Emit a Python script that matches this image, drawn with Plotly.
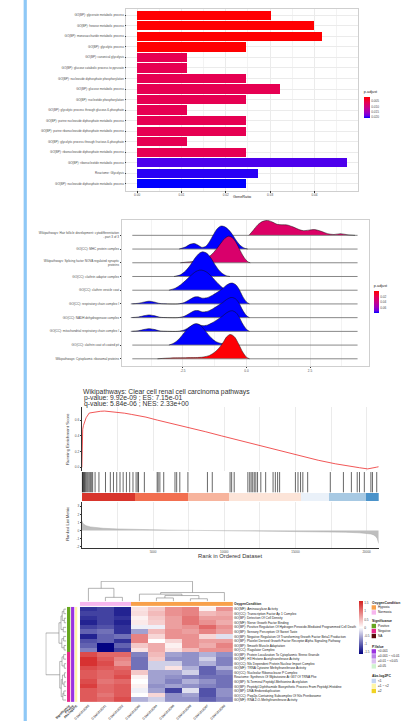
import plotly.graph_objects as go

W, H = 402, 722
FONT = "Liberation Sans, Arial, sans-serif"
TXT = "#4D4D4D"
DARK = "#222222"

def xd(a, b):
    return [a / W, b / W]

def yd(top, bottom):
    return [1 - bottom / H, 1 - top / H]

def px(x):
    return x / W

def py(y):
    return 1 - y / H

# ---------------- Panel 1 : enrichment bar chart ----------------
bar_terms = [
    "GO(BP): glycerate metabolic process",
    "GO(BP): hexose metabolic process",
    "GO(BP): monosaccharide metabolic process",
    "GO(BP): glycolytic process",
    "GO(BP): canonical glycolysis",
    "GO(BP): glucose catabolic process to pyruvate",
    "GO(BP): nucleoside diphosphate phosphorylation",
    "GO(BP): glucose metabolic process",
    "GO(BP): nucleotide phosphorylation",
    "GO(BP): glycolytic process through glucose-6-phosphate",
    "GO(BP): purine nucleoside diphosphate metabolic process",
    "GO(BP): purine ribonucleoside diphosphate metabolic process",
    "GO(BP): glycolytic process through fructose-6-phosphate",
    "GO(BP): ribonucleoside diphosphate metabolic process",
    "GO(BP): ribonucleotide metabolic process",
    "Reactome: Glycolysis",
    "GO(BP): nucleoside diphosphate metabolic process",
]
bar_ratio = [0.0304, 0.0399, 0.0418, 0.0247, 0.0114, 0.0114, 0.0247, 0.0323, 0.0247,
             0.0114, 0.0247, 0.0247, 0.0114, 0.0247, 0.0475, 0.0274, 0.0247]
bar_padj = [0.0006, 0.0006, 0.0006, 0.0006, 0.0058, 0.0058, 0.0058, 0.0058, 0.0058,
            0.0058, 0.0058, 0.0058, 0.0058, 0.0058, 0.0192, 0.0199, 0.0207]
bar_ticks = [0.00, 0.01, 0.02, 0.03, 0.04]
bar_padj_ticks = [0.005, 0.010, 0.015, 0.020]

# ---------------- Panel 2 : ridgeline ----------------
ridge_terms = [
    "Wikipathways: Hair follicle development: cytodifferentiation<br>- part 3 of 3",
    "GO(CC): MHC protein complex",
    "Wikipathways: Splicing factor NOVA regulated synaptic<br>proteins",
    "GO(CC): clathrin adaptor complex",
    "GO(CC): clathrin vesicle coat",
    "GO(CC): respiratory chain complex I",
    "GO(CC): NADH dehydrogenase complex",
    "GO(CC): mitochondrial respiratory chain complex I",
    "GO(CC): clathrin coat of coated pit",
    "Wikipathways: Cytoplasmic ribosomal proteins",
]
ridge_padj = [0.026, 0.075, 0.028, 0.075, 0.075, 0.075, 0.075, 0.075, 0.075, 0.001]
ridge_x = [
    [0.10, 0.26, 0.45, 0.64, 0.83, 1.02, 1.21, 1.40, 1.59, 1.85, 2.10, 2.25, 2.45, 2.68, 2.93, 3.19, 3.44, 3.70, 3.95, 4.27],
    [-2.65, -2.40, -2.20, -2.05, -1.90, -1.75, -1.60, -1.45, -1.30, -1.15, -1.00, -0.85, -0.70, -0.55, -0.40, -0.25, -0.10, 0.05],
    [-2.60, -2.30, -2.00, -1.80, -1.60, -1.40, -1.20, -1.00, -0.85, -0.70, -0.55, -0.40, -0.25, -0.10, 0.05, 0.15],
    [-2.85, -2.60, -2.40, -2.20, -2.00, -1.85, -1.72, -1.55, -1.40, -1.25, -1.10, -0.95, -0.80, -0.65],
    [-3.05, -2.80, -2.60, -2.40, -2.20, -2.00, -1.85, -1.70, -1.55, -1.40, -1.25, -1.10, -0.95, -0.80, -0.65],
    [-4.55, -4.25, -4.00, -3.83, -3.65, -3.40, -3.10, -2.70, -2.45, -2.25, -2.05, -1.90, -1.75, -1.55, -1.35, -1.15, -0.95, -0.80, -0.65, -0.55, -0.42, -0.30, -0.15, 0.00, 0.12],
    [-4.55, -4.25, -4.00, -3.83, -3.65, -3.40, -3.10, -2.70, -2.45, -2.25, -2.05, -1.90, -1.75, -1.55, -1.35, -1.15, -0.95, -0.80, -0.65, -0.55, -0.42, -0.30, -0.15, 0.00, 0.12],
    [-4.55, -4.25, -4.00, -3.83, -3.65, -3.40, -3.10, -2.70, -2.45, -2.25, -2.05, -1.90, -1.75, -1.55, -1.35, -1.15, -0.95, -0.80, -0.65, -0.55, -0.42, -0.30, -0.15, 0.00, 0.12],
    [-3.05, -2.85, -2.65, -2.45, -2.25, -2.05, -1.95, -1.80, -1.60, -1.40, -1.20, -1.00, -0.80, -0.60, -0.40],
    [-3.50, -3.20, -2.80, -2.40, -2.00, -1.70, -1.45, -1.25, -1.05, -0.90, -0.78, -0.65, -0.55, -0.45, -0.30, -0.15, 0.00, 0.12],
]
ridge_h = [
    [0.0, 0.35, 0.78, 1.02, 1.09, 0.97, 0.80, 0.77, 0.76, 0.60, 0.40, 0.34, 0.38, 0.42, 0.30, 0.12, 0.06, 0.12, 0.05, 0.0],
    [0.0, 0.15, 0.36, 0.41, 0.28, 0.12, 0.20, 0.55, 1.05, 1.48, 1.68, 1.62, 1.40, 1.05, 0.62, 0.28, 0.08, 0.0],
    [0.0, 0.06, 0.12, 0.20, 0.32, 0.55, 0.95, 1.45, 1.78, 1.94, 1.82, 1.45, 0.90, 0.40, 0.08, 0.0],
    [0.0, 0.12, 0.40, 0.85, 1.40, 1.70, 1.80, 1.68, 1.35, 0.90, 0.50, 0.22, 0.06, 0.0],
    [0.0, 0.15, 0.38, 0.70, 1.05, 1.35, 1.46, 1.44, 1.30, 1.05, 0.75, 0.45, 0.20, 0.05, 0.0],
    [0.0, 0.05, 0.15, 0.20, 0.15, 0.03, 0.0, 0.0, 0.10, 0.30, 0.50, 0.52, 0.42, 0.45, 0.62, 0.85, 1.10, 1.35, 1.50, 1.52, 1.40, 1.10, 0.55, 0.15, 0.0],
    [0.0, 0.05, 0.15, 0.20, 0.15, 0.03, 0.0, 0.0, 0.10, 0.30, 0.50, 0.52, 0.42, 0.45, 0.62, 0.85, 1.08, 1.30, 1.45, 1.47, 1.36, 1.08, 0.55, 0.15, 0.0],
    [0.0, 0.05, 0.15, 0.20, 0.15, 0.03, 0.0, 0.0, 0.10, 0.30, 0.50, 0.52, 0.42, 0.45, 0.62, 0.85, 1.10, 1.33, 1.48, 1.50, 1.38, 1.09, 0.55, 0.15, 0.0],
    [0.0, 0.15, 0.45, 0.90, 1.30, 1.54, 1.56, 1.42, 1.00, 0.55, 0.25, 0.12, 0.08, 0.03, 0.0],
    [0.0, 0.04, 0.07, 0.08, 0.09, 0.13, 0.25, 0.48, 0.85, 1.25, 1.60, 1.77, 1.72, 1.55, 1.05, 0.50, 0.12, 0.0],
]
ridge_range = [-4.49, 4.37]
ridge_ticks = [-2.5, 0.0, 2.5]
ridge_padj_ticks = [0.02, 0.04, 0.06]

# ---------------- Panel 3 : GSEA plot ----------------
gsea_title = ["Wikipathways: Clear cell renal cell carcinoma pathways",
              "p-value: 9.92e-09 ; ES: 7.15e-01",
              "q-value: 5.84e-06 ; NES: 2.33e+00"]
n_genes = 20850
es_rank = [0, 10, 20, 60, 110, 200, 300, 520, 800, 1000, 1300, 1600, 2000, 2500, 3000, 3500, 4000,
           4500, 5300, 6400, 7500, 8700, 9800, 11000, 12100, 13250, 14500, 15500, 16600, 17800,
           18800, 19500, 20075, 20300, 20500, 20700, 20850]
es_val = [0.0, 0.25, 0.40, 0.48, 0.53, 0.59, 0.63, 0.69, 0.70, 0.705, 0.712, 0.715, 0.708, 0.698,
          0.688, 0.672, 0.655, 0.638, 0.60, 0.555, 0.505, 0.452, 0.40, 0.345, 0.29, 0.235, 0.18,
          0.135, 0.09, 0.045, 0.012, -0.005, -0.02, -0.015, -0.012, 0.002, 0.008]
hits = [5, 25, 45, 70, 100, 140, 190, 240, 300, 370, 440, 520, 600, 690, 760, 930, 1200, 1660,
        2000, 2220, 2450, 2680, 2900, 3130, 3360, 3590, 3810, 3930, 3980, 4390, 5290, 5360, 5480,
        5750, 6540, 6660, 6880, 7450, 8820, 9160, 10410, 10520, 10700, 11660, 11790, 11890,
        12000, 12110, 12220, 12340, 12570, 12910, 13430, 13590, 13750, 13890, 15000, 15180,
        15360, 15520, 15860, 17450, 18370, 18930, 19340, 19500, 19840, 20300, 20410, 20710]
band_edges = [0, 3700, 7450, 10340, 15360, 17340, 19950, 20850]
band_colors = ["#D8352C", "#F26F50", "#F7B49D", "#FCE4D8", "#EAF1F9", "#A7C9E3", "#4B93CA"]
metric_rank = [0, 50, 150, 300, 600, 1000, 1500, 2500, 4000, 6000, 8000, 10000, 12000, 14000,
               16000, 17500, 18500, 19500, 20000, 20300, 20500, 20650, 20750, 20850]
metric_val = [1.2, 0.95, 0.75, 0.6, 0.45, 0.35, 0.28, 0.2, 0.12, 0.06, 0.02, -0.01, -0.04, -0.07,
              -0.11, -0.15, -0.2, -0.28, -0.34, -0.42, -0.55, -0.75, -1.0, -1.6]
es_ticks = [0.0, 0.2, 0.4, 0.6]
metric_ticks = [-2, -1, 0, 1, 2, 3]
rank_ticks = [5000, 10000, 15000, 20000]
rank_minor = [2500, 7500, 12500, 17500]

# ---------------- Panel 4 : heatmap ----------------
hm_rows = [
    "GO(MF): Aminoacylase Activity",
    "GO(CC): Transcription Factor Ap 1 Complex",
    "GO(BP): Detection Of Cell Density",
    "GO(MF): Nerve Growth Factor Binding",
    "GO(BP): Positive Regulation Of Hydrogen Peroxide-Mediated Programmed Cell Death",
    "GO(BP): Sensory Perception Of Sweet Taste",
    "GO(BP): Negative Regulation Of Transforming Growth Factor Beta1 Production",
    "GO(BP): Platelet Derived Growth Factor Receptor Alpha Signaling Pathway",
    "GO(BP): Smooth Muscle Adaptation",
    "GO(CC): Ragulator Complex",
    "GO(BP): Protein Localization To Cytoplasmic Stress Granule",
    "GO(MF): H3 Histone Acetyltransferase Activity",
    "GO(CC): Nls Dependent Protein Nuclear Import Complex",
    "GO(MF): TRNA Cytosine Methyltransferase Activity",
    "GO(CC): Nucleolar Ribonuclease P Complex",
    "Reactome: Synthesis Of Wybutosine At G37 Of TRNA Phe",
    "GO(BP): N-Terminal Peptidyl-Methionine Acetylation",
    "GO(BP): Peptidyl-Diphthamide Biosynthetic Process From Peptidyl-Histidine",
    "GO(BP): DNA Endoreduplication",
    "GO(CC): Pwp2p-Containing Subcomplex Of 90s Preribosome",
    "GO(MF): RNA 2-O-Methyltransferase Activity",
]
hm_cols = ["GSM1818363", "GSM1818341", "GSM1818352", "GSM1818360", "GSM1818364",
           "GSM1818366", "GSM1818368", "GSM1818367", "GSM1818369"]
hm_z = [
    [-1.3, -1.2, -1.4, 0.2, 0.4, 0.8, 0.9, 0.1, 0.8],
    [-1.2, -1.2, -1.4, 0.25, 0.5, 0.8, 0.9, 0.5, 0.6],
    [-1.3, -1.2, -1.3, 0.1, 0.4, 0.7, 1.0, 0.7, 0.7],
    [-1.4, -1.2, -1.4, 0.15, 0.35, 0.7, 1.0, 0.8, 0.6],
    [-1.2, -1.1, -1.3, -0.1, -0.1, 0.7, 0.8, 1.1, 0.8],
    [-1.0, -0.9, -1.3, -0.6, 0.5, 0.8, 0.7, 0.9, 0.7],
    [-1.4, -1.0, -0.9, 0.9, 0.3, 0.8, 0.8, 0.3, -0.2],
    [-1.1, -1.0, -1.3, 0.9, 0.0, 0.3, 0.8, 0.7, 0.7],
    [-1.0, -1.6, -1.0, 0.4, 0.6, 0.1, 0.8, 0.6, 0.9],
    [-0.8, -1.6, -1.2, 0.2, 0.6, 0.2, 0.5, 0.8, 0.8],
    [1.3, 1.1, 1.1, -0.8, 0.5, -0.6, -0.7, -0.5, -0.7],
    [1.5, 1.2, 0.9, -0.9, 0.4, -0.7, -0.7, -0.3, -0.8],
    [1.5, 1.3, 0.8, -0.9, -0.3, -0.3, -0.7, -0.5, -0.8],
    [1.3, 1.2, 1.1, -0.9, -0.3, 0.2, -0.5, -1.0, -0.5],
    [1.2, 1.1, 1.2, 0.4, -0.6, -0.6, -0.3, -1.0, -0.8],
    [1.2, 1.1, 1.3, 0.1, -0.6, -0.7, -0.8, -0.9, -0.9],
    [1.3, 1.0, 1.1, 0.0, -0.6, -0.8, -0.5, -0.7, -0.9],
    [1.4, 1.1, 1.2, 0.1, -0.7, -0.6, -0.7, -0.8, -0.9],
    [1.2, 1.1, 1.2, -0.1, -0.6, -1.2, -0.2, -1.1, -0.7],
    [1.2, 1.0, 1.2, 0.0, 0.3, -0.7, -0.6, -1.1, -0.7],
    [1.2, 1.1, 1.3, -0.5, -0.3, -0.7, -0.7, -1.0, -0.8],
]
hm_ticks = [1.5, 1, 0.5, 0, -0.5, -1, -1.5]
# annotation palette
anno_colors = ["#F8A04A", "#F7B6EE", "#66A61E", "#E7298A", "#5A0A0A", "#9B32E0", "#BB82E8",
               "#DCC0F0", "#CFF3CF", "#C4D6F3", "#FFF6A6", "#F1D322"]
col_anno = [1, 1, 1, 0, 0, 0, 0, 0, 0]          # OxygenCondition per column
row_anno_names = ["Significance", "P.Value", "Abs.log2FC"]
row_signif = [2, 2, 2, 2, 2, 2, 2, 2, 2, 2, 3, 3, 3, 3, 3, 3, 3, 3, 3, 3, 3]
row_pval = [5, 5, 5, 5, 5, 5, 5, 5, 5, 5, 5, 5, 5, 5, 5, 5, 5, 5, 5, 5, 5]
row_fc = [10, 10, 10, 10, 10, 10, 10, 10, 10, 10, 10, 10, 10, 10, 10, 10, 10, 10, 10, 10, 10]
legend_groups = [
    ("OxygenCondition", [("Hypoxia", 0), ("Normoxia", 1)]),
    ("Significance", [("Positive", 2), ("Negative", 3), ("NA", 4)]),
    ("P.Value", [("<0.001", 5), ("≥0.001 ~ <0.01", 6), ("≥0.01 ~ <0.05", 7), ("≥0.05", 8)]),
    ("Abs.log2FC", [("<1", 9), ("≥1 ~ <2", 10), ("≥2", 11)]),
]
legend_title_y = [603.7, 622.3, 647.7, 677.3]
# dendrograms: (left node, right node, height)
col_merges = [(1, 2, 2.0), (0, 9, 6.5), (4, 5, 1.7), (6, 7, 1.3), (11, 12, 2.9),
              (3, 13, 3.6), (14, 8, 4.4), (10, 15, 10.0)]
row_merges = [(0, 1, 1.2), (2, 3, 1.0), (21, 22, 2.0), (4, 5, 1.5), (23, 24, 2.6),
              (6, 7, 1.3), (8, 9, 1.1), (26, 27, 2.2), (25, 28, 3.6),
              (10, 11, 1.3), (12, 13, 1.0), (30, 31, 2.1), (14, 15, 0.9), (16, 17, 1.1),
              (33, 34, 1.9), (18, 19, 1.2), (36, 20, 1.7), (35, 37, 2.5), (32, 38, 3.2),
              (29, 39, 10.0)]

# ---------------- helpers ----------------
PADJ_SCALE = [[0.0, "#FF0000"], [0.25, "#E8004F"], [0.5, "#C90088"], [0.75, "#9A00C3"],
              [0.9, "#6800E6"], [1.0, "#0000FF"]]
NEG_SCALE = [[round(1 - s, 4), c] for s, c in reversed(PADJ_SCALE)]


def hex2rgb(h):
    h = h.lstrip("#")
    return [int(h[i:i + 2], 16) for i in (0, 2, 4)]


def scale_color(scale, t):
    t = min(max(t, 0.0), 1.0)
    for (s0, c0), (s1, c1) in zip(scale[:-1], scale[1:]):
        if t <= s1:
            f = 0 if s1 == s0 else (t - s0) / (s1 - s0)
            a, b = hex2rgb(c0), hex2rgb(c1)
            return "rgb(%d,%d,%d)" % tuple(round(a[k] + (b[k] - a[k]) * f) for k in range(3))
    return scale[-1][1]


def dendro_xy(merges, n):
    pos = {i: float(i) for i in range(n)}
    hgt = {i: 0.0 for i in range(n)}
    xs, ys = [], []
    for k, (a, b, h) in enumerate(merges):
        xs += [pos[a], pos[a], pos[b], pos[b], None]
        ys += [hgt[a], h, h, hgt[b], None]
        pos[n + k] = (pos[a] + pos[b]) / 2
        hgt[n + k] = h
    return xs, ys


def cbar(x, ytop, length, thick, tickvals, ticktext, title=None):
    d = dict(x=px(x), xanchor="left", y=py(ytop), yanchor="top", len=length / H,
             lenmode="fraction", thickness=thick, thicknessmode="pixels", xpad=0, ypad=0,
             outlinewidth=0, tickvals=tickvals, ticktext=ticktext, ticks="",
             tickfont=dict(size=3.2, color=TXT, family=FONT))
    if title:
        d["title"] = dict(text=title, side="top", font=dict(size=3.8, color=DARK, family=FONT))
    return d


fig = go.Figure()

# ---- panel 1 traces
fig.add_trace(go.Bar(
    x=bar_ratio, y=bar_terms, orientation="h", width=0.88, xaxis="x", yaxis="y",
    marker=dict(color=[-p for p in bar_padj], colorscale=NEG_SCALE, cmin=-0.0207, cmax=-0.0005,
                line=dict(width=0),
                colorbar=cbar(362.7, 87.7, 29.6, 5.6, [-v for v in bar_padj_ticks],
                              ["%.3f" % v for v in bar_padj_ticks], "p.adjust")),
    hoverinfo="skip"))

# ---- panel 2 traces
nr = len(ridge_terms)
for i in range(nr):
    base = nr - 1 - i
    fig.add_trace(go.Scatter(x=ridge_range, y=[base, base], mode="lines",
                             line=dict(color="#7A7A7A", width=0.9), xaxis="x2", yaxis="y2",
                             hoverinfo="skip"))
    fig.add_trace(go.Scatter(x=ridge_x[i], y=[base + h for h in ridge_h[i]], mode="lines",
                             line=dict(color="#111111", width=0.5, shape="spline", smoothing=0.8),
                             fill="tonexty",
                             fillcolor=scale_color(PADJ_SCALE, ridge_padj[i] / 0.075),
                             xaxis="x2", yaxis="y2", hoverinfo="skip"))
fig.add_trace(go.Scatter(
    x=[None], y=[None], mode="markers", xaxis="x2", yaxis="y2", hoverinfo="skip",
    marker=dict(color=[-0.03], colorscale=NEG_SCALE, cmin=-0.075, cmax=0.0, showscale=True,
                colorbar=cbar(373, 282, 31, 4.5, [-v for v in ridge_padj_ticks],
                              ["%.2f" % v for v in ridge_padj_ticks], "p.adjust"))))

# ---- panel 3 traces
fig.add_trace(go.Scatter(x=es_rank, y=es_val, mode="lines", line=dict(color="#EE2C2C", width=0.8),
                         xaxis="x3", yaxis="y3", hoverinfo="skip"))
hx, hy = [], []
for r in hits:
    hx += [r, r, None]
    hy += [0, 1, None]
fig.add_trace(go.Scatter(x=hx, y=hy, mode="lines", line=dict(color="#000000", width=0.7),
                         opacity=0.85, xaxis="x4", yaxis="y4", hoverinfo="skip"))
fig.add_trace(go.Bar(
    x=[(a + b) / 2 for a, b in zip(band_edges[:-1], band_edges[1:])],
    y=[1] * len(band_colors),
    width=[b - a for a, b in zip(band_edges[:-1], band_edges[1:])],
    marker=dict(color=band_colors, line=dict(width=0)), xaxis="x5", yaxis="y5", hoverinfo="skip"))
fig.add_trace(go.Scatter(x=metric_rank, y=metric_val, mode="lines", fill="tozeroy",
                         fillcolor="#BEBEBE", line=dict(color="#AAAAAA", width=0.5),
                         xaxis="x6", yaxis="y6", hoverinfo="skip"))

# ---- panel 4 traces
nrow, ncol = len(hm_rows), len(hm_cols)
fig.add_trace(go.Heatmap(
    z=hm_z, x=list(range(ncol)), y=list(range(nrow)), xaxis="x7", yaxis="y7",
    colorscale=[[0, "#000080"], [0.5, "#FFFFFF"], [1, "#D42020"]], zmin=-1.62, zmax=1.62,
    colorbar=cbar(358, 602, 53, 4, hm_ticks, [("%g" % v) for v in hm_ticks]),
    hoverinfo="skip"))
na = len(anno_colors)
anno_scale = []
for k, c in enumerate(anno_colors):
    anno_scale += [[k / na, c], [(k + 1) / na, c]]
fig.add_trace(go.Heatmap(z=[col_anno], x=list(range(ncol)), y=[0], xaxis="x8", yaxis="y8",
                         colorscale=anno_scale, zmin=-0.5, zmax=na - 0.5, showscale=False,
                         hoverinfo="skip"))
fig.add_trace(go.Heatmap(z=[[a, b, c] for a, b, c in zip(row_signif, row_pval, row_fc)],
                         x=[0, 1, 2], y=list(range(nrow)), xaxis="x9", yaxis="y9", xgap=0.8,
                         colorscale=anno_scale, zmin=-0.5, zmax=na - 0.5, showscale=False,
                         hoverinfo="skip"))
cx, cy = dendro_xy(col_merges, ncol)
fig.add_trace(go.Scatter(x=cx, y=cy, mode="lines", line=dict(color="#7F7F7F", width=0.6),
                         xaxis="x10", yaxis="y10", hoverinfo="skip"))
rx, ry = dendro_xy(row_merges, nrow)
fig.add_trace(go.Scatter(x=ry, y=rx, mode="lines", line=dict(color="#7F7F7F", width=0.6),
                         xaxis="x11", yaxis="y11", hoverinfo="skip"))


# ---------------- layout ----------------
def ax(domain, anchor, **kw):
    d = dict(domain=domain, anchor=anchor, showgrid=False, zeroline=False, showline=False,
             ticks="", showticklabels=False, fixedrange=True)
    d.update(kw)
    return d


def tkd(size):
    return dict(ticks="outside", ticklen=1.2, tickwidth=0.4, tickcolor="#333333",
                showticklabels=True, tickfont=dict(size=size, color=TXT, family=FONT))


grid = dict(showgrid=True, gridcolor="#EBEBEB", gridwidth=0.5)
border = dict(showline=True, mirror=True, linecolor="#CFCFCF", linewidth=0.5)

layout = dict(
    xaxis=ax(xd(118, 357), "y", range=[-0.0024, 0.0499], tickvals=bar_ticks,
             ticktext=["%.2f" % v for v in bar_ticks],
             minor=dict(dtick=0.005, tick0=0, showgrid=True, gridcolor="#F3F3F3", gridwidth=0.4),
             **grid, **border, **tkd(3.1)),
    yaxis=ax(yd(9, 191), "x", type="category", categoryorder="array", categoryarray=bar_terms,
             range=[len(bar_terms) - 0.34, -0.6], **grid, **border, **tkd(3.0)),
    xaxis2=ax(xd(113, 368), "y2", range=[-4.91, 4.82], tickvals=ridge_ticks,
              ticktext=["%.1f" % v for v in ridge_ticks],
              minor=dict(tickvals=[-3.75, -1.25, 1.25, 3.75], showgrid=True, gridcolor="#F3F3F3",
                         gridwidth=0.4),
              **grid, **border, **tkd(3.1)),
    yaxis2=ax(yd(220, 367), "x2", range=[-0.56, 10.14], tickvals=list(range(nr - 1, -1, -1)),
              ticktext=ridge_terms, **border, **tkd(3.1)),
    xaxis3=ax(xd(72, 378), "y3", range=[0, n_genes], tickvals=rank_ticks, **grid,
              minor=dict(tickvals=rank_minor, showgrid=True, gridcolor="#EBEBEB", gridwidth=0.5)),
    yaxis3=ax(yd(408, 472), "x3", range=[-0.051, 0.761], tickvals=es_ticks,
              ticktext=["%.1f" % v for v in es_ticks], showline=True, linecolor="#333333",
              linewidth=0.5, **tkd(3.2)),
    xaxis4=ax(xd(72, 378), "y4", range=[0, n_genes]),
    yaxis4=ax(yd(472.7, 493.3), "x4", range=[0, 1]),
    xaxis5=ax(xd(72, 378), "y5", range=[0, n_genes]),
    yaxis5=ax(yd(493.3, 501.7), "x5", range=[0, 1]),
    xaxis6=ax(xd(72, 378), "y6", range=[0, n_genes], tickvals=rank_ticks,
              ticktext=[str(v) for v in rank_ticks], showline=True, linecolor="#333333",
              linewidth=0.5,
              minor=dict(tickvals=rank_minor, showgrid=True, gridcolor="#EBEBEB", gridwidth=0.5),
              **grid, **tkd(3.0)),
    yaxis6=ax(yd(502.7, 548.3), "x6", range=[-2.1, 3.53], tickvals=metric_ticks,
              ticktext=[str(v) for v in metric_ticks], showline=True, linecolor="#333333",
              linewidth=0.5, **tkd(3.2)),
    xaxis7=ax(xd(70, 227.7), "y7", range=[-0.5, ncol - 0.5], tickvals=list(range(ncol)),
              ticktext=hm_cols, showticklabels=True, tickangle=-45,
              tickfont=dict(size=3.2, color=DARK, family=FONT)),
    yaxis7=ax(yd(607.7, 703.3), "x7", range=[nrow - 0.5, -0.5], side="right",
              tickvals=list(range(nrow)), ticktext=hm_rows, showticklabels=True,
              tickfont=dict(size=3.2, color=DARK, family=FONT)),
    xaxis8=ax(xd(70, 227.7), "y8", range=[-0.5, ncol - 0.5]),
    yaxis8=ax(yd(602.7, 606.9), "x8", range=[-0.5, 0.5], side="right", tickvals=[0],
              ticktext=["<b>OxygenCondition</b>"], showticklabels=True,
              tickfont=dict(size=3.3, color=DARK, family=FONT)),
    xaxis9=ax(xd(56.7, 68.3), "y9", range=[-0.5, 2.5], tickvals=[0, 1, 2],
              ticktext=["<b>%s</b>" % s for s in row_anno_names], showticklabels=True,
              tickangle=-45, tickfont=dict(size=3.2, color=DARK, family=FONT)),
    yaxis9=ax(yd(607.7, 703.3), "x9", range=[nrow - 0.5, -0.5]),
    xaxis10=ax(xd(70, 227.7), "y10", range=[-0.5, ncol - 0.5]),
    yaxis10=ax(yd(581.7, 602.2), "x10", range=[0, 10.2]),
    xaxis11=ax(xd(34.5, 56), "y11", range=[10.2, 0]),
    yaxis11=ax(yd(607.7, 703.3), "x11", range=[nrow - 0.5, -0.5]),
)

annotations = []
def note(text, x, y, size, color=DARK, xanchor="center", yanchor="middle", angle=0, family=FONT):
    annotations.append(dict(text=text, x=px(x), y=py(y), xref="paper", yref="paper",
                            xanchor=xanchor, yanchor=yanchor, showarrow=False, textangle=angle,
                            borderpad=0, font=dict(size=size, color=color, family=family)))

note("GeneRatio", 237.5, 197.7, 3.8)
note(gsea_title[0], 71.7, 392.8, 6.8, "#333333", xanchor="left")
note(gsea_title[1], 73.2, 398.6, 6.8, "#333333", xanchor="left")
note(gsea_title[2], 73.2, 404.2, 6.8, "#333333", xanchor="left")
note("Running Enrichment Score", 57.3, 440, 4.3, "#333333", angle=-90)
note("Ranked List Metric", 57.3, 525, 4.1, "#333333", angle=-90)
note("Rank in Ordered Dataset", 225.3, 556.8, 5.8, "#333333")

shapes = [dict(type="rect", xref="paper", yref="paper", x0=px(12), x1=px(15.3), y0=0, y1=1,
               fillcolor="#8EC8F6", line=dict(width=0), layer="below")]
for (title, entries), ty in zip(legend_groups, legend_title_y):
    note("<b>%s</b>" % title, 370.5, ty, 3.4, DARK, xanchor="left")
    for j, (lab, code) in enumerate(entries):
        cyy = ty + 4.6 + 5.0 * j
        shapes.append(dict(type="rect", xref="paper", yref="paper", x0=px(370.7), x1=px(375.2),
                           y0=py(cyy + 2.2), y1=py(cyy - 2.2), fillcolor=anno_colors[code],
                           line=dict(width=0)))
        note(lab, 376.5, cyy, 3.2, DARK, xanchor="left")

layout.update(dict(
    width=W, height=H, margin=dict(l=0, r=0, t=0, b=0), paper_bgcolor="white",
    plot_bgcolor="white", showlegend=False, font=dict(family=FONT, size=4, color=TXT),
    annotations=annotations, shapes=shapes, bargap=0,
))
fig.update_layout(**layout)
fig.write_html("out.html", include_plotlyjs=True, config={"displayModeBar": False})
